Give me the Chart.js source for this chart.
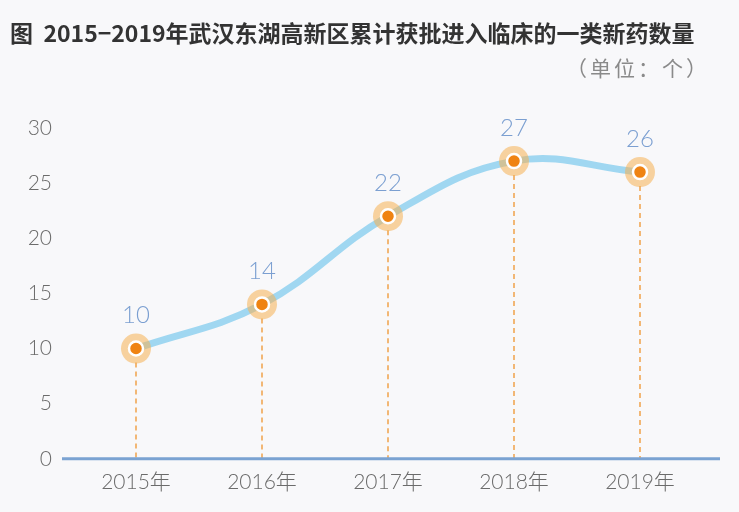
<!DOCTYPE html>
<html>
<head>
<meta charset="utf-8">
<script src="https://cdn.jsdelivr.net/npm/chart.js@4"></script>
<style>
  html, body { margin: 0; padding: 0; background: #f8f8fa; }
  #wrap { width: 739px; height: 512px; position: relative; }
</style>
</head>
<body>
<div id="wrap"><canvas id="drugChart" width="739" height="512"></canvas></div>
<script>
// ===== chart data =====
const chartTitle = '图  2015−2019年武汉东湖高新区累计获批进入临床的一类新药数量';
const unitLabel = '（单位：个）';
const years = ['2015年', '2016年', '2017年', '2018年', '2019年'];
const drugCounts = [10, 14, 22, 27, 26];
const yTicks = [0, 5, 10, 15, 20, 25, 30];

const numFont = "Lato, 'Noto Sans', 'Noto Sans CJK SC', sans-serif";
const cjkFont = "'Noto Sans CJK SC', 'Noto Sans', sans-serif";

/**
 * Title + unit text drawn on canvas
 */
const headerPlugin = {
    id: 'header',
    afterDraw(chart) {
        const ctx = chart.ctx;
        ctx.save();
        ctx.textBaseline = 'middle';
        ctx.fillStyle = '#333333';
        ctx.font = "bold 23px " + cjkFont;
        ctx.textAlign = 'left';
        ctx.fillText(chartTitle, 10, 33);
        ctx.fillStyle = '#8a8a8a';
        ctx.font = "21px " + cjkFont;
        ctx.letterSpacing = '3px';
        ctx.textAlign = 'right';
        ctx.fillText(unitLabel, 710, 68);
        ctx.restore();
    }
};

/**
 * Dashed drop lines + baseline under the points
 */
const dropLinePlugin = {
    id: 'dropLines',
    beforeDatasetsDraw(chart) {
        const ctx = chart.ctx;
        const area = chart.chartArea;
        const zeroY = chart.scales.y.getPixelForValue(0);
        const meta = chart.getDatasetMeta(0);
        ctx.save();
        ctx.strokeStyle = '#f0a14a';
        ctx.lineWidth = 1.5;
        ctx.setLineDash([5, 4]);
        meta.data.forEach(pt => {
            ctx.beginPath();
            ctx.moveTo(pt.x, pt.y + 14);
            ctx.lineTo(pt.x, zeroY);
            ctx.stroke();
        });
        ctx.setLineDash([]);
        ctx.strokeStyle = '#7ba3d2';
        ctx.lineWidth = 3;
        ctx.beginPath();
        ctx.moveTo(area.left - 11, zeroY);
        ctx.lineTo(area.right + 17, zeroY);
        ctx.stroke();
        ctx.restore();
    }
};

/**
 * Value labels above each point
 */
const valueLabelPlugin = {
    id: 'valueLabels',
    afterDatasetsDraw(chart) {
        const ctx = chart.ctx;
        const meta = chart.getDatasetMeta(0);
        ctx.save();
        ctx.fillStyle = '#7b9fd1';
        ctx.font = "300 24px " + numFont;
        ctx.textAlign = 'center';
        ctx.textBaseline = 'middle';
        meta.data.forEach((pt, i) => {
            ctx.fillText(String(drugCounts[i]), pt.x, pt.y - 33);
        });
        ctx.restore();
    }
};

new Chart(document.getElementById('drugChart').getContext('2d'), {
    type: 'line',
    data: {
        labels: years,
        datasets: [
            {
                // curve
                data: drugCounts,
                borderColor: '#a0d7f1',
                borderWidth: 7,
                borderCapStyle: 'round',
                tension: 0.4,
                pointRadius: 0,
                fill: false,
                order: 3
            },
            {
                // halo
                data: drugCounts,
                showLine: false,
                pointRadius: 15,
                pointBorderWidth: 0,
                pointBackgroundColor: 'rgba(245, 176, 82, 0.55)',
                order: 2
            },
            {
                // center dot
                data: drugCounts,
                showLine: false,
                pointRadius: 7,
                pointBorderWidth: 2.5,
                pointBorderColor: '#ffffff',
                pointBackgroundColor: '#ef8312',
                order: 1
            }
        ]
    },
    options: {
        responsive: false,
        animation: false,
        layout: {
            padding: { top: 128, right: 36, bottom: 6, left: 0 }
        },
        plugins: {
            legend: { display: false },
            tooltip: { enabled: false }
        },
        scales: {
            x: {
                offset: true,
                border: { display: false },
                grid: { display: false, drawTicks: false },
                ticks: {
                    padding: 11,
                    color: '#6b6b6b',
                    font: { family: numFont, size: 21, weight: 300 }
                }
            },
            y: {
                min: 0,
                max: 30,
                afterBuildTicks: scale => {
                    scale.ticks = yTicks.map(v => ({ value: v }));
                },
                afterFit: scale => { scale.width = 73; },
                border: { display: false },
                grid: { display: false, drawTicks: false },
                ticks: {
                    padding: 21,
                    color: '#6b6b6b',
                    font: { family: numFont, size: 21, weight: 300 }
                }
            }
        }
    },
    plugins: [headerPlugin, dropLinePlugin, valueLabelPlugin]
});
</script>
</body>
</html>
